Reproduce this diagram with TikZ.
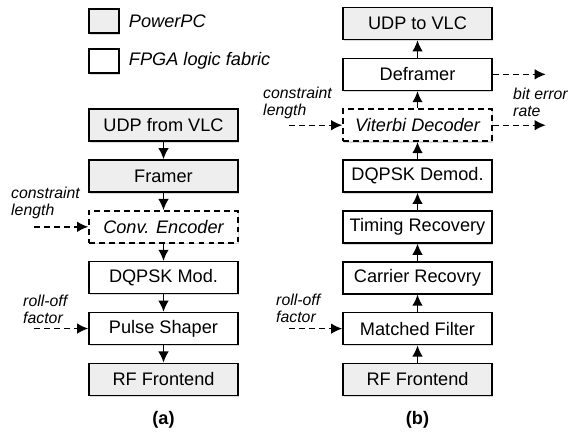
\documentclass[tikz,border=0pt]{standalone}
\usepackage{fontspec}
\setmainfont{Liberation Sans}
\usetikzlibrary{positioning,shadows,arrows.meta}
\definecolor{ppcgray}{RGB}{238,238,238}

\begin{document}
\begin{tikzpicture}[
    block/.style={rectangle, draw, line width=1.3pt, minimum width=4.47cm, minimum height=0.96cm, inner sep=0pt, font=\fontsize{15.5}{17}\selectfont, drop shadow={shadow xshift=0.6pt, shadow yshift=-1.4pt, opacity=0.3}},
    ppc/.style={block, fill=ppcgray},
    fpga/.style={block, fill=white},
    soft/.style={block, fill=white, dash pattern=on 5pt off 3.5pt, font=\fontsize{15.5}{17}\selectfont\itshape},
    keybox/.style={minimum width=0.9cm, minimum height=0.72cm},
    legend/.style={inner sep=0pt, font=\fontsize{15.5}{17}\selectfont\itshape},
    note/.style={inner sep=0pt, align=left, font=\fontsize{13.5}{14.5}\selectfont\itshape},
    flow/.style={-{Latex[length=9.5pt,width=9pt]}, line width=1.2pt},
    param/.style={flow, dash pattern=on 5pt off 3.5pt},
    caption/.style={font=\fontsize{15.5}{17}\selectfont\bfseries},
    node distance=0.52cm
]
\useasboundingbox (0,0) rectangle (17.13,-13.14);

% Legend
\node[ppc, keybox] (key-ppc) at (3.12,-0.63) {};
\node[legend, right=0.27cm of key-ppc] (key-ppc-txt) {PowerPC};
\node[fpga, keybox] (key-fpga) at (3.12,-1.83) {};
\node[legend, right=0.27cm of key-fpga] (key-fpga-txt) {FPGA logic fabric};

% (a) Transmitter chain
\node[ppc] (udpin) at (4.905,-3.753) {UDP from VLC};
\node[ppc, below=of udpin] (framer) {Framer};
\node[soft, below=of framer] (conv) {Conv. Encoder};
\node[fpga, below=of conv] (mod) {DQPSK Mod.};
\node[fpga, below=of mod] (shaper) {Pulse Shaper};
\node[ppc, below=of shaper] (rfa) {RF Frontend};

\draw[flow] (udpin) -- (framer);
\draw[flow] (framer) -- (conv);
\draw[flow] (conv) -- (mod);
\draw[flow] (mod) -- (shaper);
\draw[flow] (shaper) -- (rfa);

\node[note, anchor=north west] (cl-a-txt) at (0.33,-5.6) {constraint\\length};
\coordinate[left=1.62cm of conv.west] (cl-a);
\draw[param] (cl-a) -- (conv);
\node[note, anchor=north west] (ro-a-txt) at (0.69,-8.85) {roll-off\\factor};
\coordinate[left=1.62cm of shaper.west] (ro-a);
\draw[param] (ro-a) -- (shaper);

\node[caption] (cap-a) at (4.905,-12.6) {(a)};

% (b) Receiver chain
\node[ppc] (udpout) at (12.525,-0.705) {UDP to VLC};
\node[fpga, below=of udpout] (deframer) {Deframer};
\node[soft, below=of deframer] (viterbi) {Viterbi Decoder};
\node[fpga, below=of viterbi] (demod) {DQPSK Demod.};
\node[fpga, below=of demod] (timing) {Timing Recovery};
\node[fpga, below=of timing] (carrier) {Carrier Recovry};
\node[fpga, below=of carrier] (matched) {Matched Filter};
\node[ppc, below=of matched] (rfb) {RF Frontend};

\draw[flow] (rfb) -- (matched);
\draw[flow] (matched) -- (carrier);
\draw[flow] (carrier) -- (timing);
\draw[flow] (timing) -- (demod);
\draw[flow] (demod) -- (viterbi);
\draw[flow] (viterbi) -- (deframer);
\draw[flow] (deframer) -- (udpout);

\node[note, anchor=north west] (cl-b-txt) at (7.89,-2.6) {constraint\\length};
\coordinate[left=1.59cm of viterbi.west] (cl-b);
\draw[param] (cl-b) -- (viterbi);
\node[note, anchor=north west] (ro-b-txt) at (8.28,-8.82) {roll-off\\factor};
\coordinate[left=1.59cm of matched.west] (ro-b);
\draw[param] (ro-b) -- (matched);

\coordinate[right=1.59cm of deframer.east] (ber-1);
\draw[param] (deframer) -- (ber-1);
\coordinate[right=1.59cm of viterbi.east] (ber-2);
\draw[param] (viterbi) -- (ber-2);
\node[note, anchor=north west] (ber-txt) at (15.39,-2.64) {bit error\\rate};

\node[caption] (cap-b) at (12.525,-12.6) {(b)};

\end{tikzpicture}
\end{document}
